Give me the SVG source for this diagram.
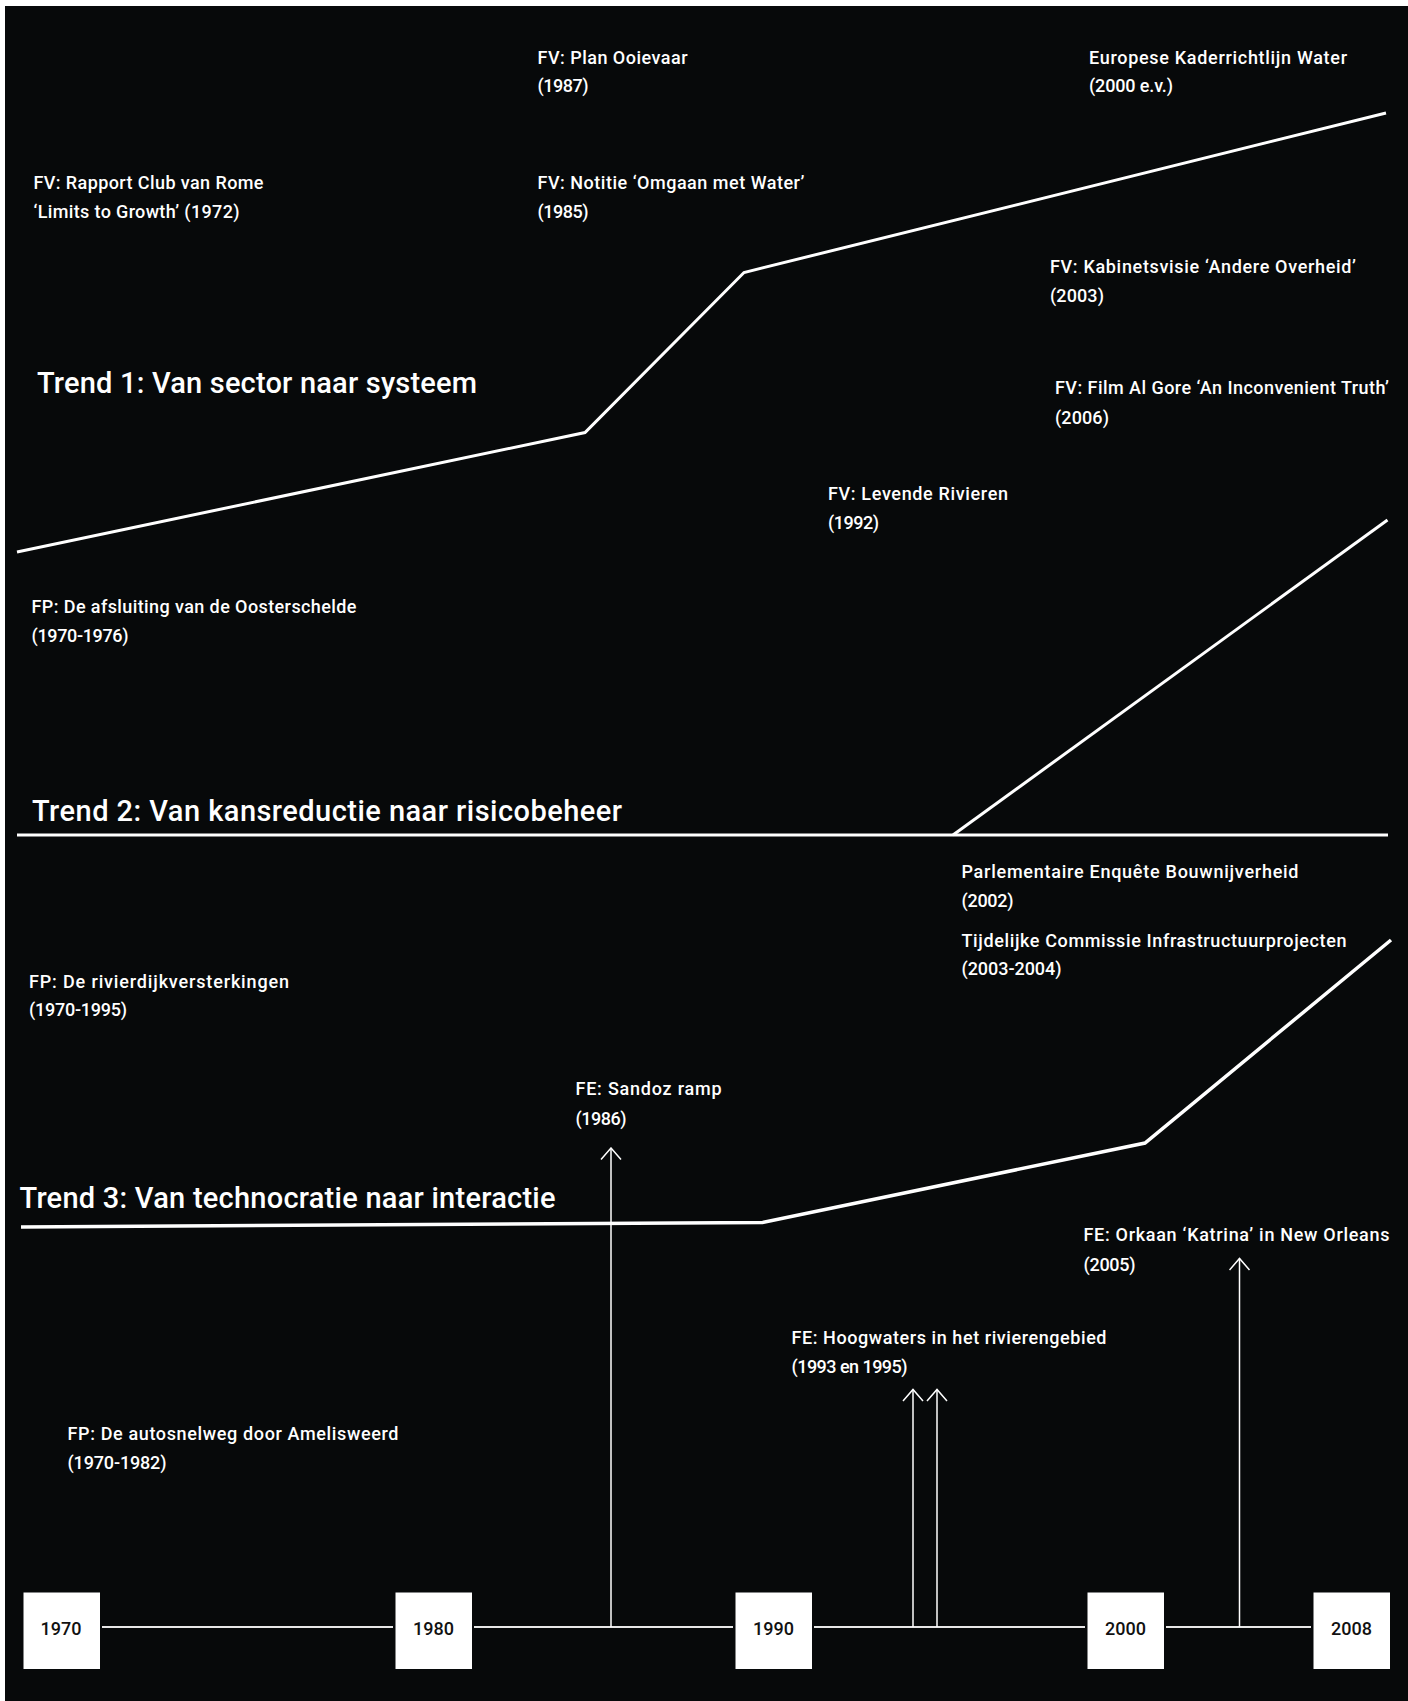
<svg xmlns="http://www.w3.org/2000/svg" width="1408" height="1701" viewBox="0 0 1408 1701">
<defs>
<style>
.lbl{font-family:Roboto,"Liberation Sans",sans-serif;font-size:18px;font-weight:500;fill:#fff}
.ttl{font-family:Roboto,"Liberation Sans",sans-serif;font-size:29px;font-weight:500;fill:#fff}
.trend{fill:none;stroke:#fff;stroke-width:3;stroke-linejoin:miter}
.tl{stroke:#e6e6e6;stroke-width:2}
.arr{stroke:#fff;stroke-width:1.5;fill:none}
.yr rect{fill:#fff}
.yr text{font-family:Roboto,"Liberation Sans",sans-serif;font-size:18px;font-weight:500;fill:#111;text-anchor:middle}
</style>
<marker id="ah" viewBox="0 0 14 22" refX="12.5" refY="11" markerWidth="14" markerHeight="22" markerUnits="userSpaceOnUse" orient="auto">
<path d="M1,1 L12.5,11 L1,21" fill="none" stroke="#fff" stroke-width="1.5"/>
</marker>
</defs>
<rect x="0" y="0" width="1408" height="1701" fill="#ffffff"/>
<rect x="5" y="6" width="1403" height="1695" fill="#07090a"/>

<g id="connectors">
<polyline class="trend" points="17,552 585,432.5 744,272.5 1386,113"/>
<polyline class="trend" points="17,835 1388,835"/>
<polyline class="trend" points="953,835 1387.5,520"/>
<polyline class="trend" style="stroke-width:3.5" points="21,1227 762.5,1222.5 1145,1143 1391,940"/>
<line class="tl" x1="102" y1="1627" x2="393" y2="1627"/>
<line class="tl" x1="474" y1="1627" x2="733" y2="1627"/>
<line class="tl" x1="814" y1="1627" x2="1085" y2="1627"/>
<line class="tl" x1="1166" y1="1627" x2="1311" y2="1627"/>
<line class="arr" x1="611" y1="1627" x2="611" y2="1148" marker-end="url(#ah)"/>
<line class="arr" x1="913" y1="1627" x2="913" y2="1389.5" marker-end="url(#ah)"/>
<line class="arr" x1="937" y1="1627" x2="937" y2="1389.5" marker-end="url(#ah)"/>
<line class="arr" x1="1239.5" y1="1627" x2="1239.5" y2="1258.5" marker-end="url(#ah)"/>
</g>

<g id="trend1"><text class="ttl" x="37" y="393" textLength="440">Trend 1: Van sector naar systeem</text></g>
<g id="trend2"><text class="ttl" x="32" y="821" textLength="590">Trend 2: Van kansreductie naar risicobeheer</text></g>
<g id="trend3"><text class="ttl" x="19.5" y="1208" textLength="536">Trend 3: Van technocratie naar interactie</text></g>

<g id="ooievaar"><text class="lbl" x="537.5" y="63.5" textLength="150">FV: Plan Ooievaar</text><text class="lbl" x="537.5" y="92" textLength="51">(1987)</text></g>
<g id="kaderrichtlijn"><text class="lbl" x="1089" y="63.5" textLength="258">Europese Kaderrichtlijn Water</text><text class="lbl" x="1089" y="92" textLength="84">(2000 e.v.)</text></g>
<g id="clubvanrome"><text class="lbl" x="33.5" y="189" textLength="230">FV: Rapport Club van Rome</text><text class="lbl" x="33.5" y="218" textLength="206">‘Limits to Growth’ (1972)</text></g>
<g id="omgaanmetwater"><text class="lbl" x="537.5" y="189" textLength="267">FV: Notitie ‘Omgaan met Water’</text><text class="lbl" x="537.5" y="218" textLength="51">(1985)</text></g>
<g id="andereoverheid"><text class="lbl" x="1050" y="272.5" textLength="306">FV: Kabinetsvisie ‘Andere Overheid’</text><text class="lbl" x="1050" y="302" textLength="54">(2003)</text></g>
<g id="algore"><text class="lbl" x="1055" y="394" textLength="334">FV: Film Al Gore ‘An Inconvenient Truth’</text><text class="lbl" x="1055" y="423.5" textLength="54">(2006)</text></g>
<g id="levenderivieren"><text class="lbl" x="828" y="499.5" textLength="180">FV: Levende Rivieren</text><text class="lbl" x="828" y="529" textLength="51">(1992)</text></g>
<g id="oosterschelde"><text class="lbl" x="31.5" y="612.5" textLength="325">FP: De afsluiting van de Oosterschelde</text><text class="lbl" x="31.5" y="641.5" textLength="97">(1970-1976)</text></g>
<g id="bouwnijverheid"><text class="lbl" x="961.5" y="877.5" textLength="337">Parlementaire Enquête Bouwnijverheid</text><text class="lbl" x="961.5" y="906.5" textLength="52">(2002)</text></g>
<g id="infraprojecten"><text class="lbl" x="961.5" y="946.5" textLength="385">Tijdelijke Commissie Infrastructuurprojecten</text><text class="lbl" x="961.5" y="975" textLength="100">(2003-2004)</text></g>
<g id="rivierdijk"><text class="lbl" x="29" y="987.5" textLength="260">FP: De rivierdijkversterkingen</text><text class="lbl" x="29" y="1016" textLength="98">(1970-1995)</text></g>
<g id="sandoz"><text class="lbl" x="575.5" y="1095" textLength="146">FE: Sandoz ramp</text><text class="lbl" x="575.5" y="1124.5" textLength="51">(1986)</text></g>
<g id="katrina"><text class="lbl" x="1083.5" y="1241" textLength="306">FE: Orkaan ‘Katrina’ in New Orleans</text><text class="lbl" x="1083.5" y="1270.5" textLength="52">(2005)</text></g>
<g id="hoogwaters"><text class="lbl" x="791.5" y="1344" textLength="315">FE: Hoogwaters in het rivierengebied</text><text class="lbl" x="791.5" y="1373" textLength="116">(1993 en 1995)</text></g>
<g id="amelisweerd"><text class="lbl" x="67.5" y="1440" textLength="331">FP: De autosnelweg door Amelisweerd</text><text class="lbl" x="67.5" y="1469" textLength="99">(1970-1982)</text></g>

<g id="y1970" class="yr"><rect x="23.5" y="1592.5" width="76.5" height="76.5"/><text x="61" y="1634.5">1970</text></g>
<g id="y1980" class="yr"><rect x="395.5" y="1592.5" width="76.5" height="76.5"/><text x="433.5" y="1634.5">1980</text></g>
<g id="y1990" class="yr"><rect x="735.5" y="1592.5" width="76.5" height="76.5"/><text x="773.5" y="1634.5">1990</text></g>
<g id="y2000" class="yr"><rect x="1087.5" y="1592.5" width="76.5" height="76.5"/><text x="1125.5" y="1634.5">2000</text></g>
<g id="y2008" class="yr"><rect x="1313.5" y="1592.5" width="76.5" height="76.5"/><text x="1351.5" y="1634.5">2008</text></g>
</svg>
